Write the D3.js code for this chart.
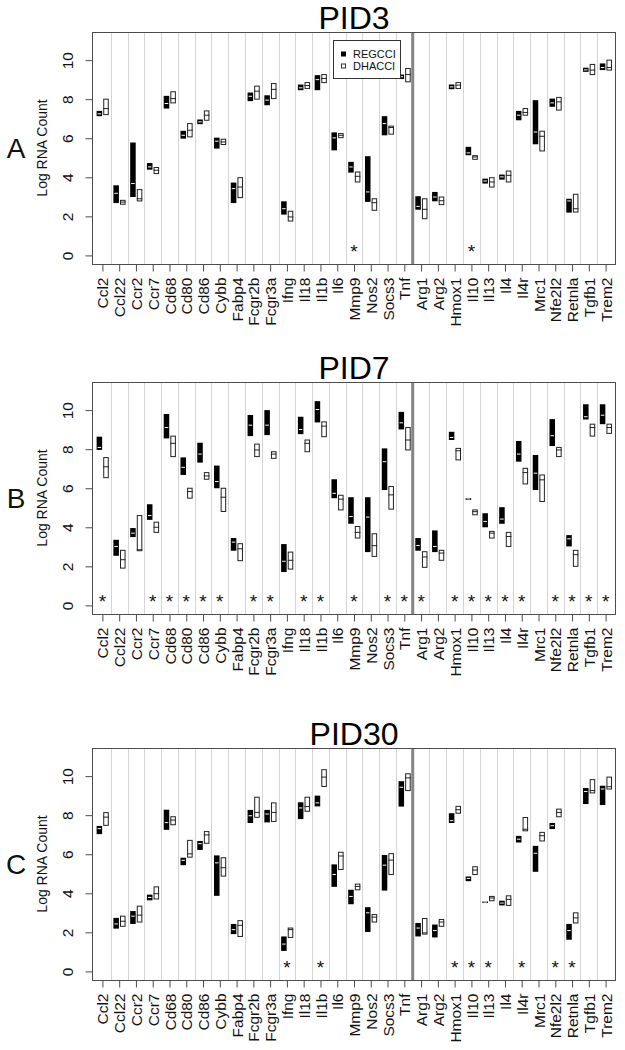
<!DOCTYPE html>
<html>
<head>
<meta charset="utf-8">
<script src="https://cdn.jsdelivr.net/npm/d3@7"></script>
<style>
  html, body { margin: 0; padding: 0; background: #fff; }
  svg { display: block; font-family: "Liberation Sans", Arial, Helvetica, sans-serif; }
</style>
</head>
<body>
<svg id="chart" width="625" height="1050"></svg>
<script>
// ---------- DATA ----------
const genes = ["Ccl2","Ccl22","Ccr2","Ccr7","Cd68","Cd80","Cd86","Cybb","Fabp4","Fcgr2b","Fcgr3a","Ifng","Il18","Il1b","Il6","Mmp9","Nos2","Socs3","Tnf","Arg1","Arg2","Hmox1","Il10","Il13","Il4","Il4r","Mrc1","Nfe2l2","Retnla","Tgfb1","Trem2"];
const dividerAfter = "Tnf";
const seriesNames = ["REGCCI", "DHACCI"];
const panelTitles = ["PID3", "PID7", "PID30"];
const panelLetters = ["A", "B", "C"];
const yTicks = [0, 2, 4, 6, 8, 10];

// [low, median, high] per gene
const pid3Reg = [[7.13,7.25,7.4],[2.68,3.18,3.59],[2.99,3.68,5.78],[4.39,4.53,4.73],[7.52,7.78,8.17],[5.98,6.15,6.38],[6.72,6.84,6.96],[5.47,5.85,6.03],[2.68,3.42,3.73],[7.9,8.15,8.34],[7.69,7.95,8.2],[2.09,2.39,2.77],[8.46,8.58,8.75],[8.46,9.0,9.23],[5.38,6.02,6.3],[4.24,4.53,4.79],[2.74,3.25,5.08],[6.15,6.75,7.13],[9.03,9.15,9.26],[2.34,2.51,3.03],[2.77,2.99,3.25],[8.51,8.63,8.75],[5.13,5.25,5.56],[3.68,3.81,3.93],[3.88,4.02,4.14],[6.92,7.18,7.4],[5.69,6.32,7.95],[7.61,7.81,8.03],[2.19,2.79,2.9],[9.4,9.5,9.61],[9.49,9.62,9.83]];
const pid3Dha = [[7.21,7.52,8.0],[2.62,2.73,2.82],[2.79,2.9,3.37],[4.19,4.36,4.5],[7.81,8.03,8.38],[6.07,6.41,6.75],[6.92,7.18,7.4],[5.68,5.81,5.95],[2.96,3.5,3.98],[8.0,8.41,8.67],[8.03,8.5,8.8],[1.76,1.97,2.26],[8.55,8.7,8.85],[8.85,9.06,9.26],[6.03,6.15,6.24],[3.76,4.05,4.27],[2.31,2.7,2.9],[6.21,6.55,6.62],[8.89,9.26,9.57],[1.88,2.36,2.9],[2.6,2.8,2.99],[8.55,8.72,8.85],[4.92,5.04,5.11],[3.5,3.76,3.98],[3.76,4.1,4.32],[7.18,7.32,7.52],[5.35,6.1,6.36],[7.44,7.86,8.09],[2.22,2.39,3.13],[9.26,9.49,9.78],[9.49,9.62,10.0]];
const pid7Reg = [[7.96,8.09,8.64],[2.54,3.02,3.36],[3.5,3.7,3.96],[4.38,4.6,5.18],[8.55,9.11,9.8],[6.68,7.07,7.58],[7.31,7.75,8.33],[6.0,6.34,7.16],[2.8,3.24,3.45],[8.67,9.23,9.75],[8.72,9.23,10.0],[1.71,2.26,3.14],[8.77,9.01,9.66],[9.37,10.03,10.46],[5.49,5.74,6.46],[4.18,4.55,5.54],[2.73,4.52,5.54],[5.91,7.36,8.04],[9.01,9.35,9.91],[2.8,3.07,3.45],[2.73,3.02,3.84],[8.47,8.6,8.89],[5.4,5.45,5.49],[4.0,4.3,4.72],[4.18,4.42,5.03],[7.36,7.75,8.42],[5.91,6.77,7.7],[8.16,8.69,9.54],[3.02,3.41,3.6],[9.52,9.66,10.3],[9.28,9.74,10.3]];
const pid7Dha = [[6.54,7.1,7.57],[1.91,2.34,2.82],[2.8,2.85,4.6],[3.74,4.0,4.26],[7.62,8.3,8.67],[5.49,5.83,6.0],[6.46,6.63,6.8],[4.81,5.54,6.0],[2.29,2.9,3.16],[7.62,7.96,8.26],[7.53,7.75,7.87],[1.86,2.31,2.73],[7.87,8.3,8.47],[8.64,9.18,9.4],[4.89,5.44,5.64],[3.45,3.74,4.04],[2.51,3.06,3.67],[4.93,5.66,6.09],[7.96,8.47,9.11],[1.95,2.48,2.75],[2.31,2.68,2.82],[7.45,7.92,8.04],[4.64,4.8,4.89],[3.45,3.7,3.79],[3.02,3.53,3.74],[6.22,6.8,7.02],[5.32,6.43,6.68],[7.62,7.96,8.09],[2.0,2.6,2.82],[8.67,9.11,9.28],[8.81,9.11,9.28]];
const pid30Reg = [[7.03,7.31,7.45],[2.19,2.43,2.74],[2.43,2.83,3.09],[3.64,3.79,3.93],[7.25,7.62,8.28],[5.44,5.69,5.82],[6.22,6.54,6.68],[3.87,5.56,5.94],[1.91,2.14,2.43],[7.6,7.97,8.27],[7.63,8.06,8.27],[1.05,1.4,1.79],[7.8,8.37,8.66],[8.45,8.63,9.0],[4.33,4.96,5.48],[3.44,3.84,4.18],[2.02,3.0,3.29],[4.14,5.44,5.96],[8.44,9.43,9.74],[1.79,2.22,2.48],[1.74,2.09,2.4],[7.6,7.72,8.1],[4.62,4.76,4.86],[3.5,3.55,3.58],[3.38,3.5,3.62],[6.6,6.77,6.94],[5.1,6.05,6.43],[7.29,7.46,7.6],[1.62,2.09,2.43],[8.57,9.21,9.39],[8.52,9.34,9.51]];
const pid30Dha = [[7.48,7.9,8.13],[2.31,2.57,2.83],[2.53,2.88,3.34],[3.71,3.98,4.33],[7.51,7.75,7.92],[5.85,6.02,6.71],[6.56,6.99,7.16],[4.88,5.31,5.82],[1.79,2.36,2.6],[7.89,8.14,8.92],[7.68,8.14,8.63],[1.74,2.14,2.22],[8.2,8.44,8.92],[9.47,9.95,10.33],[5.22,5.91,6.1],[4.18,4.35,4.47],[2.53,2.78,2.91],[4.96,5.7,6.03],[9.26,9.91,10.12],[1.91,1.97,2.71],[2.31,2.53,2.66],[8.1,8.28,8.45],[4.96,5.19,5.36],[3.62,3.76,3.84],[3.38,3.69,3.87],[7.2,7.28,7.88],[6.68,6.95,7.12],[7.92,8.14,8.31],[2.48,2.74,3.0],[9.14,9.26,9.82],[9.34,9.46,9.95]];

const pid3Stars = ["Mmp9","Il10"];
const pid7Stars = ["Ccl2","Ccr7","Cd68","Cd80","Cd86","Cybb","Fcgr2b","Fcgr3a","Il18","Il1b","Mmp9","Socs3","Tnf","Arg1","Hmox1","Il10","Il13","Il4","Il4r","Nfe2l2","Retnla","Tgfb1","Trem2"];
const pid30Stars = ["Ifng","Il1b","Hmox1","Il10","Il13","Il4r","Nfe2l2","Retnla"];
const starValue = 0.45;

const panels = [
  { title: panelTitles[0], letter: panelLetters[0], reg: pid3Reg, dha: pid3Dha, stars: pid3Stars, legend: true },
  { title: panelTitles[1], letter: panelLetters[1], reg: pid7Reg, dha: pid7Dha, stars: pid7Stars, legend: false },
  { title: panelTitles[2], letter: panelLetters[2], reg: pid30Reg, dha: pid30Dha, stars: pid30Stars, legend: false }
];

// ---------- LAYOUT ----------
const svg = d3.select("#chart");
const left = 92, right = 616, plotH = 232;
const tops = [32, 382, 748];
const frameColor = "#4d4d4d";

const x = d3.scaleLinear().domain([-0.62, 30.62]).range([left, right]);
const boxW = x(0.33) - x(0);
const regOff = -0.18, dhaOff = 0.215;

panels.forEach((p, pi) => {
  const top = tops[pi];
  const y = d3.scaleLinear().domain([-0.44, 11.44]).range([top + plotH, top]);
  const g = svg.append("g");

  // grid lines
  const gridIdx = d3.range(0, genes.length - 1).map(i => i + 0.5);
  const divIdx = genes.indexOf(dividerAfter) + 0.5;
  g.selectAll("line.grid").data(gridIdx.filter(v => v !== divIdx)).join("line")
    .attr("x1", d => Math.round(x(d)) + 0.5).attr("x2", d => Math.round(x(d)) + 0.5)
    .attr("y1", top).attr("y2", top + plotH)
    .attr("stroke", "#d4d4d4").attr("stroke-width", 1);
  g.append("line")
    .attr("x1", x(divIdx)).attr("x2", x(divIdx))
    .attr("y1", top).attr("y2", top + plotH)
    .attr("stroke", "#858585").attr("stroke-width", 3);

  // boxes
  const drawBoxes = (data, off, filled) => {
    const bg = g.append("g");
    data.forEach((d, i) => {
      const cx = x(i + off);
      const [lo, med, hi] = d;
      const y1 = y(hi), y2 = y(lo);
      const h = Math.max(1.5, y2 - y1);
      if (filled) {
        bg.append("rect").attr("x", cx - boxW / 2).attr("y", y1).attr("width", boxW).attr("height", h)
          .attr("fill", "#000");
        bg.append("line").attr("x1", cx - boxW / 2 + 1).attr("x2", cx + boxW / 2 - 1)
          .attr("y1", y(med)).attr("y2", y(med)).attr("stroke", "#fff").attr("stroke-width", 1);
      } else {
        bg.append("rect").attr("x", cx - boxW / 2 + 0.5).attr("y", y1).attr("width", boxW - 1).attr("height", h)
          .attr("fill", "#fff").attr("stroke", "#222").attr("stroke-width", 1);
        bg.append("line").attr("x1", cx - boxW / 2).attr("x2", cx + boxW / 2)
          .attr("y1", y(med)).attr("y2", y(med)).attr("stroke", "#222").attr("stroke-width", 1);
      }
    });
  };
  drawBoxes(p.reg, regOff, true);
  drawBoxes(p.dha, dhaOff, false);

  // stars
  g.selectAll("text.star").data(p.stars).join("text")
    .attr("x", d => x(genes.indexOf(d)))
    .attr("y", y(starValue) + 11)
    .attr("text-anchor", "middle")
    .attr("font-size", 19)
    .attr("fill", "#111")
    .text("*");

  // frame
  g.append("rect").attr("x", left + 0.5).attr("y", top + 0.5)
    .attr("width", right - left - 1).attr("height", plotH)
    .attr("fill", "none").attr("stroke", frameColor).attr("stroke-width", 1);

  // x axis
  const xAxis = d3.axisBottom(x).tickValues(d3.range(genes.length)).tickSize(7).tickPadding(0)
    .tickFormat(i => genes[i]);
  const xa = g.append("g").attr("transform", `translate(0,${top + plotH + 0.5})`).call(xAxis);
  xa.select(".domain").remove();
  xa.selectAll(".tick line").attr("stroke", frameColor);
  xa.selectAll(".tick text")
    .attr("font-size", 15.5).attr("fill", "#111")
    .attr("font-family", "Liberation Sans, Arial, sans-serif")
    .attr("transform", "rotate(-90)")
    .attr("text-anchor", "end")
    .attr("x", -13).attr("y", 0).attr("dy", "0.36em");

  // y axis
  const yAxis = d3.axisLeft(y).tickValues(yTicks).tickSize(7).tickPadding(0);
  const ya = g.append("g").attr("transform", `translate(${left + 0.5},0)`).call(yAxis);
  ya.select(".domain").remove();
  ya.selectAll(".tick line").attr("stroke", frameColor);
  ya.selectAll(".tick text")
    .attr("font-size", 15.5).attr("fill", "#111")
    .attr("font-family", "Liberation Sans, Arial, sans-serif")
    .attr("transform", "rotate(-90)")
    .attr("text-anchor", "middle")
    .attr("x", 0).attr("y", -20).attr("dy", 0);

  // y label
  g.append("text")
    .attr("transform", `translate(47,${top + plotH / 2}) rotate(-90)`)
    .attr("text-anchor", "middle").attr("font-size", 14).attr("fill", "#111")
    .text("Log RNA Count");

  // panel letter
  g.append("text").attr("x", 16).attr("y", top + plotH / 2 + 10)
    .attr("text-anchor", "middle").attr("font-size", 28).attr("fill", "#111")
    .text(p.letter);

  // title
  g.append("text").attr("x", (left + right) / 2).attr("y", top - 3)
    .attr("text-anchor", "middle").attr("font-size", 32).attr("fill", "#000")
    .text(p.title);

  // legend
  if (p.legend) {
    const lg = g.append("g");
    lg.append("rect").attr("x", 333.5).attr("y", 40.5).attr("width", 67).attr("height", 38)
      .attr("fill", "#fff").attr("stroke", "#333").attr("stroke-width", 1);
    const items = [{ name: seriesNames[0], filled: true, yy: 54 }, { name: seriesNames[1], filled: false, yy: 66 }];
    items.forEach(it => {
      lg.append("rect").attr("x", it.filled ? 341 : 341.5).attr("y", it.filled ? it.yy - 2.5 : it.yy - 2)
        .attr("width", it.filled ? 5 : 4).attr("height", it.filled ? 5 : 4)
        .attr("fill", it.filled ? "#000" : "#fff")
        .attr("stroke", it.filled ? "none" : "#333").attr("stroke-width", 1);
      lg.append("text").attr("x", 353).attr("y", it.yy + 4).attr("font-size", 11).attr("fill", "#111")
        .text(it.name);
    });
  }
});
</script>
</body>
</html>
